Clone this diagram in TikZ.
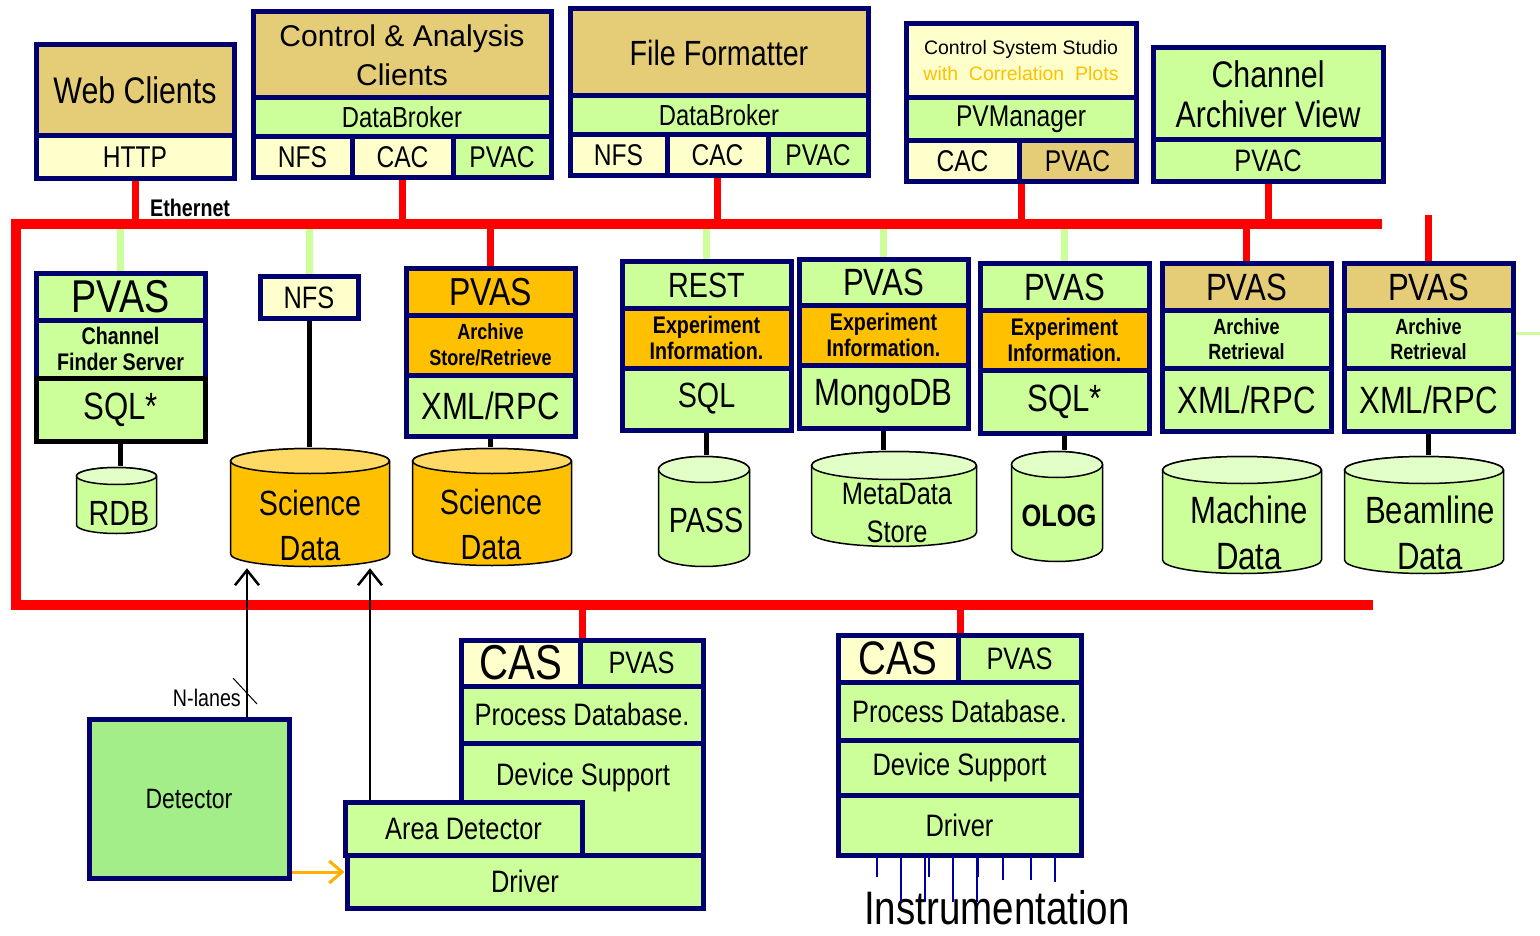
\documentclass[tikz,border=0pt]{standalone}
\usepackage{fontspec}
\setmainfont{Liberation Sans}[FakeStretch=0.82]
\newfontfamily\widefont{Liberation Sans}
\usetikzlibrary{arrows.meta,backgrounds,calc}
\definecolor{navy}{RGB}{0,0,110}
\definecolor{tan}{RGB}{229,205,120}
\definecolor{lgreen}{RGB}{204,255,153}
\definecolor{pgreen}{RGB}{226,255,200}
\definecolor{lyellow}{RGB}{255,255,204}
\definecolor{amber}{RGB}{255,192,0}
\definecolor{pamber}{RGB}{255,217,102}
\definecolor{detgreen}{RGB}{163,238,136}
\definecolor{feedorange}{RGB}{255,176,0}
\definecolor{wire}{RGB}{0,0,160}
\tikzset{cell/.style={draw=navy, line width=5pt, inner sep=0pt, align=center}}
\tikzset{fs/.style 2 args={font=\fontsize{#1}{#2}\selectfont}}
\tikzset{bfs/.style 2 args={font=\bfseries\fontsize{#1}{#2}\selectfont}}
% a data store: ellipse half height, body colour, lid colour
\tikzset{store/.style n args={3}{inner sep=0pt, path picture={
  \draw[black, line width=1.5pt, fill=#2]
    let \p1=(path picture bounding box.south west),
        \p2=(path picture bounding box.north east),
        \n1={(\x2-\x1)/2-1.5pt}
    in (\x1+1.5pt,\y2-1.5pt-#1) -- (\x1+1.5pt,\y1+1.5pt+#1)
       arc[start angle=180, end angle=360, x radius=\n1, y radius=#1]
       -- (\x2-1.5pt,\y2-1.5pt-#1)
       arc[start angle=0, end angle=180, x radius=\n1, y radius=#1] -- cycle;
  \draw[black, line width=1.5pt, fill=#3]
    let \p1=(path picture bounding box.south west),
        \p2=(path picture bounding box.north east),
        \n1={(\x2-\x1)/2-1.5pt}
    in ({(\x1+\x2)/2},\y2-1.5pt-#1) ellipse[x radius=\n1, y radius=#1];
}}}
\tikzset{gdb/.style={store={#1}{lgreen}{pgreen}}}
\tikzset{odb/.style={store={#1}{amber}{pamber}}}
\tikzset{dbtxt/.style={inner sep=0pt, align=center}}
\tikzset{bus/.style={red, line width=10pt}}
\tikzset{tap/.style={red, line width=7pt}}
\tikzset{gtap/.style={lgreen, line width=7pt}}
\tikzset{link/.style={black, line width=5pt}}
\tikzset{up/.style={black, line width=2.5pt, -{Straight Barb[length=15pt, width=24pt]}}}

\begin{document}
\begin{tikzpicture}[x=1pt,y=-1pt]
\useasboundingbox (0,0) rectangle (1540,936);
% clients
\node[cell, fill=tan, minimum width=198pt, minimum height=91pt, fs={37}{40}] (web) at (135,90.5) {Web Clients};
\node[cell, fill=lyellow, minimum width=198pt, minimum height=43pt, fs={30}{30}] (http) at (135,157.5) {HTTP};
\node[cell, fill=tan, minimum width=298pt, minimum height=86pt, font=\widefont\fontsize{30}{39}\selectfont] (ctrl) at (402,55) {Control \& Analysis\\Clients};
\node[cell, fill=lgreen, minimum width=298pt, minimum height=39pt, fs={29}{30}] (ctrldb) at (402,117.5) {DataBroker};
\node[cell, fill=lyellow, minimum width=99pt, minimum height=41pt, fs={30}{30}] (ctrlnfs) at (302.5,157.5) {NFS};
\node[cell, fill=lyellow, minimum width=101pt, minimum height=41pt, fs={30}{30}] (ctrlcac) at (402.5,157.5) {CAC};
\node[cell, fill=lgreen, minimum width=98pt, minimum height=41pt, fs={30}{30}] (ctrlpvac) at (502,157.5) {PVAC};
\node[cell, fill=tan, minimum width=298pt, minimum height=87pt, fs={35}{38}] (ffmt) at (719,52.5) {File Formatter};
\node[cell, fill=lgreen, minimum width=298pt, minimum height=39pt, fs={29}{30}] (ffmtdb) at (719,115.5) {DataBroker};
\node[cell, fill=lyellow, minimum width=97pt, minimum height=41pt, fs={30}{30}] (ffmtnfs) at (618.5,155.5) {NFS};
\node[cell, fill=lyellow, minimum width=101pt, minimum height=41pt, fs={30}{30}] (ffmtcac) at (717.5,155.5) {CAC};
\node[cell, fill=lgreen, minimum width=100pt, minimum height=41pt, fs={30}{30}] (ffmtpvac) at (818,155.5) {PVAC};
\node[cell, fill=lyellow, minimum width=230pt, minimum height=74pt, font=\widefont\fontsize{19.5}{26}\selectfont] (css) at (1021,61) {Control System Studio\\\textcolor{amber}{with \ Correlation \ Plots}};
\node[cell, fill=lgreen, minimum width=230pt, minimum height=43pt, fs={30}{30}] (csspvm) at (1021,119.5) {PVManager};
\node[cell, fill=lyellow, minimum width=113pt, minimum height=41pt, fs={30}{30}] (csscac) at (962.5,161.5) {CAC};
\node[cell, fill=tan, minimum width=117pt, minimum height=41pt, fs={30}{30}] (csspvac) at (1077.5,161.5) {PVAC};
\node[cell, fill=lgreen, minimum width=230pt, minimum height=92pt, fs={37}{40}] (cav) at (1268,94) {Channel\\Archiver View};
\node[cell, fill=lgreen, minimum width=230pt, minimum height=42pt, fs={31}{31}] (cavpvac) at (1268,161) {PVAC};
\node[anchor=west, bfs={24}{24}, inner sep=0pt] (ether) at (150,208) {Ethernet};

% services
\node[cell, fill=lgreen, minimum width=169pt, minimum height=46pt, fs={46}{46}] (cfpvas) at (120.5,297) {PVAS};
\node[cell, fill=lgreen, minimum width=169pt, minimum height=58pt, bfs={24}{26}] (cfsrv) at (120.5,349) {Channel\\Finder Server};
\node[cell, draw=black, fill=lgreen, minimum width=169pt, minimum height=63pt, fs={38}{38}] (cfsql) at (120.5,409.5) {SQL*};
\node[cell, fill=lyellow, minimum width=98pt, minimum height=41pt, fs={31}{31}] (scinfs) at (309,297.5) {NFS};
\node[cell, fill=amber, minimum width=169pt, minimum height=46pt, fs={39}{39}] (arpvas) at (490.5,292) {PVAS};
\node[cell, fill=amber, minimum width=169pt, minimum height=60pt, bfs={22}{26}] (arstore) at (490.5,345) {Archive\\Store/Retrieve};
\node[cell, fill=lgreen, minimum width=169pt, minimum height=61pt, fs={38}{38}] (arxml) at (490.5,405.5) {XML/RPC};
\node[cell, fill=lgreen, minimum width=169pt, minimum height=46pt, fs={35}{35}] (rest) at (706.5,285) {REST};
\node[cell, fill=amber, minimum width=169pt, minimum height=60pt, bfs={24}{26}] (passexp) at (706.5,338) {Experiment\\Information.};
\node[cell, fill=lgreen, minimum width=169pt, minimum height=62pt, fs={35}{35}] (passsql) at (706.5,399) {SQL};
\node[cell, fill=lgreen, minimum width=169pt, minimum height=45pt, fs={38}{38}] (mdpvas) at (883.5,282.5) {PVAS};
\node[cell, fill=amber, minimum width=169pt, minimum height=60pt, bfs={24}{26}] (mdexp) at (883.5,335) {Experiment\\Information.};
\node[cell, fill=lgreen, minimum width=169pt, minimum height=63pt, fs={38}{38}] (mongo) at (883.5,396.5) {MongoDB};
\node[cell, fill=lgreen, minimum width=169pt, minimum height=46pt, fs={38}{38}] (ologpvas) at (1064.5,287) {PVAS};
\node[cell, fill=amber, minimum width=169pt, minimum height=60pt, bfs={24}{26}] (ologexp) at (1064.5,340) {Experiment\\Information.};
\node[cell, fill=lgreen, minimum width=169pt, minimum height=63pt, fs={38}{38}] (ologsql) at (1064.5,401.5) {SQL*};
\node[cell, fill=tan, minimum width=169pt, minimum height=46pt, fs={38}{38}] (mpvas) at (1246.5,287) {PVAS};
\node[cell, fill=lgreen, minimum width=169pt, minimum height=58pt, bfs={22}{25}] (mret) at (1246.5,339) {Archive\\Retrieval};
\node[cell, fill=lgreen, minimum width=169pt, minimum height=63pt, fs={38}{38}] (mxml) at (1246.5,399.5) {XML/RPC};
\node[cell, fill=tan, minimum width=169pt, minimum height=46pt, fs={38}{38}] (bpvas) at (1428.5,287) {PVAS};
\node[cell, fill=lgreen, minimum width=169pt, minimum height=58pt, bfs={22}{25}] (bret) at (1428.5,339) {Archive\\Retrieval};
\node[cell, fill=lgreen, minimum width=169pt, minimum height=63pt, fs={38}{38}] (bxml) at (1428.5,399.5) {XML/RPC};

% data stores
\node[gdb=8.5pt, minimum width=83pt, minimum height=69pt] (rdb) at (116.5,500.5) {};
\node[odb=12.5pt, minimum width=162pt, minimum height=121pt] (sci1) at (310,507.5) {};
\node[odb=12.5pt, minimum width=162pt, minimum height=120pt] (sci2) at (492,507) {};
\node[gdb=13pt, minimum width=94pt, minimum height=113pt] (pass) at (704,511.5) {};
\node[gdb=14pt, minimum width=168pt, minimum height=98pt] (meta) at (894,499) {};
\node[gdb=13pt, minimum width=94pt, minimum height=113pt] (olog) at (1057,506.5) {};
\node[gdb=13.5pt, minimum width=162pt, minimum height=120pt] (mach) at (1242,515) {};
\node[gdb=13.5pt, minimum width=162pt, minimum height=120pt] (beam) at (1424,515) {};
\node[dbtxt, fs={35}{35}] (rdbtxt) at (119,513) {RDB};
\node[dbtxt, fs={35}{45}] (sci1txt) at (310,525) {Science\\Data};
\node[dbtxt, fs={35}{45}] (sci2txt) at (491,524) {Science\\Data};
\node[dbtxt, fs={35}{35}] (passtxt) at (706,520) {PASS};
\node[dbtxt, fs={31}{38}] (metatxt) at (897,513) {MetaData\\Store};
\node[dbtxt, bfs={31}{31}] (ologtxt) at (1059,516) {OLOG};
\node[dbtxt, fs={38}{46}] (machtxt) at (1249,533) {Machine\\Data};
\node[dbtxt, fs={38}{46}] (beamtxt) at (1430,533) {Beamline\\Data};

% IOCs
\node[cell, fill=lyellow, minimum width=119pt, minimum height=46pt, fs={49}{49}] (ioc1cas) at (520.5,663) {CAS};
\node[cell, fill=lgreen, minimum width=123pt, minimum height=46pt, fs={31}{31}] (ioc1pvas) at (641.5,663) {PVAS};
\node[cell, fill=lgreen, minimum width=242pt, minimum height=57pt, fs={31}{31}] (ioc1pdb) at (582,714.5) {Process Database.};
\node[cell, fill=lgreen, minimum width=242pt, minimum height=112pt] (ioc1ds) at (582,799) {};
\node[fs={31}{31}, inner sep=0pt] (ioc1dstxt) at (583,777) {Device Support};
\node[cell, fill=lgreen, minimum width=237pt, minimum height=53pt, fs={31}{31}] (areadet) at (463.5,828.5) {Area Detector};
\node[cell, fill=lgreen, minimum width=356pt, minimum height=53pt, fs={31}{31}] (ioc1drv) at (525,881.5) {Driver};
\node[cell, fill=detgreen, minimum width=200pt, minimum height=159pt, fs={28}{28}] (detector) at (189,798.5) {Detector};
\node[cell, fill=lyellow, minimum width=120pt, minimum height=47pt, fs={47}{47}] (ioc2cas) at (898,658.5) {CAS};
\node[cell, fill=lgreen, minimum width=123pt, minimum height=47pt, fs={31}{31}] (ioc2pvas) at (1019.5,658.5) {PVAS};
\node[cell, fill=lgreen, minimum width=243pt, minimum height=58pt, fs={31}{31}] (ioc2pdb) at (959.5,711) {Process Database.};
\node[cell, fill=lgreen, minimum width=243pt, minimum height=55pt, fs={31}{31}] (ioc2ds) at (959.5,767.5) {Device Support};
\node[cell, fill=lgreen, minimum width=243pt, minimum height=60pt, fs={31}{31}] (ioc2drv) at (959.5,825) {Driver};
\node[fs={47}{47}, inner sep=0pt] (instr) at (997,908) {Instrumentation};

% network
\coordinate (busW) at (16,224);
\coordinate (busE) at (1382,224);
\coordinate (busSW) at (16,605);
\coordinate (busSE) at (1373,605);
\begin{scope}[on background layer]
  \foreach \n in {cfpvas,scinfs,rest,mdpvas,ologpvas}
    \draw[gtap] (\n.north) -- (\n.north |- busW);
  \draw[bus] (busE) -- (busW) -- (busSW) -- (busSE);
  \foreach \n in {http,ctrlcac,ffmtcac,cavpvac}
    \draw[tap] (\n.south) -- (\n.south |- busW);
  \draw[tap] (csscac.south east) -- (csscac.south east |- busW);
  \foreach \n in {arpvas,mpvas}
    \draw[tap] (\n.north) -- (\n.north |- busW);
  \draw[tap] (bpvas.north) -- ++(0,-46);
  \draw[tap] (ioc1cas.north east) -- (ioc1cas.north east |- busSW);
  \draw[tap] (ioc2cas.north east) -- (ioc2cas.north east |- busSW);
\end{scope}
\coordinate (offr) at (1540,333);
\draw[lgreen, line width=3pt] (bret.east |- offr) -- (offr);

% storage links
\draw[link] (cfsql.south) -- (cfsql.south |- rdb.north);
\draw[link] (scinfs.south) -- (scinfs.south |- sci1.north);
\draw[link] (arxml.south) -- (arxml.south |- sci2.north);
\draw[link] (passsql.south) -- (passsql.south |- pass.north);
\draw[link] (mongo.south) -- (mongo.south |- meta.north);
\draw[link] (ologsql.south) -- (ologsql.south |- olog.north);
\draw[link] (bxml.south) -- (bxml.south |- beam.north);

% detector data paths
\coordinate (lane) at (247,0);
\coordinate (lanes) at (370,0);
\coordinate (nlx) at (245,691);
\draw[up] (detector.north -| lane) -- (sci1.south -| lane);
\draw[up] (areadet.north -| lanes) -- (sci1.south -| lanes);
\draw[black, line width=1pt] ($(nlx)+(-12,-13)$) -- ($(nlx)+(12,13)$);
\node[anchor=east, fs={24}{24}, inner sep=0pt] (nlanes) at (241,698) {N-lanes};
\coordinate (feed) at (0,872);
\draw[feedorange, line width=3pt, -{Straight Barb[length=13pt, width=22pt]}] (detector.east |- feed) -- (ioc1drv.west |- feed);

% instrumentation wires
\foreach \x/\y in {877/877, 901/902, 929/877, 953/902, 978/877, 1003/880, 1031/880, 1055/882, 925/902, 977/902}
  \draw[wire, line width=2.5pt] (\x,855) -- (\x,\y);
\end{tikzpicture}
\end{document}
